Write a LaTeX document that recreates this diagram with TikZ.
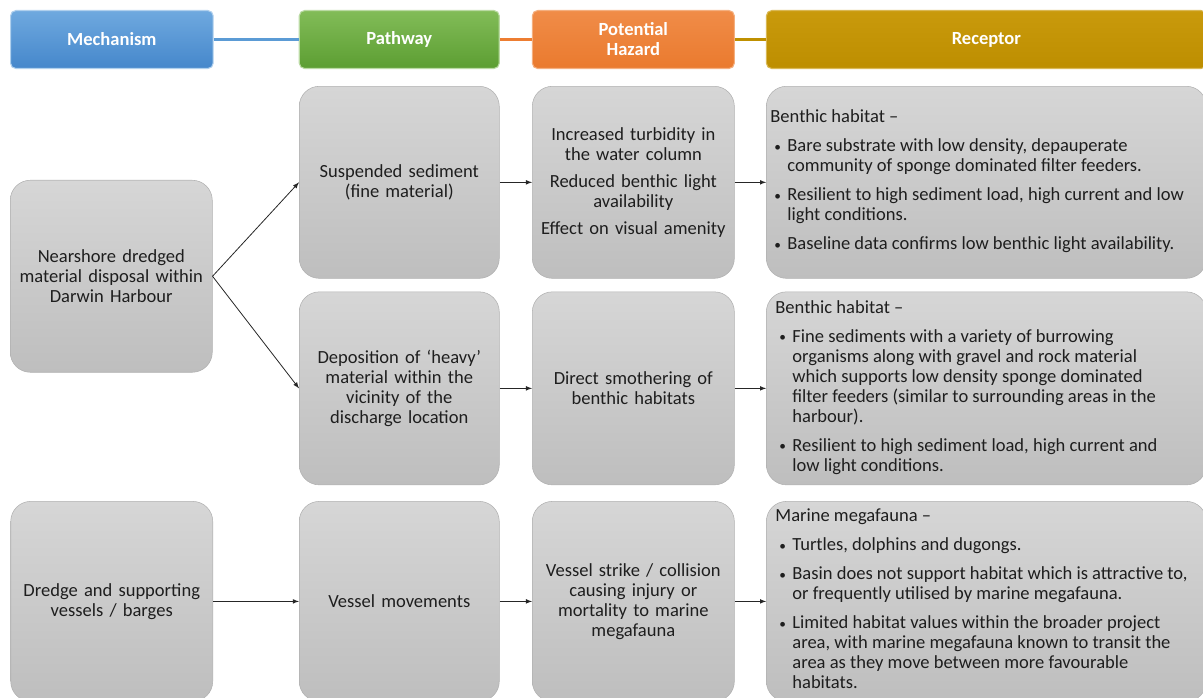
\documentclass[tikz,border=0pt]{standalone}
\usepackage{fontspec}
\setmainfont{Carlito}
\usetikzlibrary{positioning}

\definecolor{mechtop}{HTML}{6FA9DF}
\definecolor{mechbot}{HTML}{4587CB}
\definecolor{mechline}{HTML}{5B9BD5}
\definecolor{pathtop}{HTML}{82BC58}
\definecolor{pathbot}{HTML}{5C9E32}
\definecolor{haztop}{HTML}{F08C48}
\definecolor{hazbot}{HTML}{EA7A2E}
\definecolor{hazline}{HTML}{ED7D31}
\definecolor{rectop}{HTML}{C99A0C}
\definecolor{recbot}{HTML}{BD8E00}
\definecolor{recline}{HTML}{BF9000}
\definecolor{boxtop}{HTML}{D6D6D6}
\definecolor{boxbot}{HTML}{BEBEBE}
\definecolor{boxline}{HTML}{B0B0B0}
\definecolor{txt}{HTML}{1E1E1E}

\newcommand{\bodyfont}{\fontsize{13.9}{15}\selectfont}
% receptor text: one row per line, bullet rows and indented follow-on rows
\newcommand{\bul}{\makebox[12.75pt][l]{\hspace{3pt}\raisebox{0.6pt}{\fontsize{10}{10}\selectfont\textbullet}}}
\newcommand{\ind}{\hspace{12.75pt}}
\newcommand{\recbody}[2]{\makebox[326pt][l]{\hspace{#1}\begin{tabular}{@{}l@{}}#2\end{tabular}}}

\begin{document}
\begin{tikzpicture}[x=0.75pt, y=-0.75pt,
  head/.style = {rounded corners=4pt, minimum height=43.5pt, inner sep=2pt, align=center,
                 text=white, font=\bodyfont\bfseries, line width=0.8pt},
  headlink/.style = {draw=#1, line width=1.6pt},
  card/.style = {draw=boxline, top color=boxtop, bottom color=boxbot, rounded corners=15pt,
                 align=center, text=txt, font=\bodyfont, inner xsep=2pt, inner ysep=4pt},
  recbox/.style = {card, minimum width=330pt, inner xsep=0pt, minimum height=#1},
  link/.style = {-latex, line width=0.6pt, black!85}]
\useasboundingbox (0,0) rectangle (1203,698);
\clip (0,0) rectangle (1203,698);

% column headers
\node[head, draw=mechtop!55!white, top color=mechtop, bottom color=mechbot, minimum width=152pt, anchor=north west] (mechhead) at (10,10) {Mechanism};
\node[head, draw=pathtop!55!white, top color=pathtop, bottom color=pathbot, minimum width=150pt] (pathhead) [right=63.75pt of mechhead] {Pathway};
\node[head, draw=haztop!70!white, top color=haztop, bottom color=hazbot, minimum width=151.5pt] (hazhead) [right=24pt of pathhead] {Potential\\Hazard};
\node[head, draw=rectop!70!white, top color=rectop, bottom color=recbot, minimum width=330pt] (rechead) [right=23.25pt of hazhead] {Receptor};
\path[headlink=mechline] (mechhead.east) -- (pathhead.west);
\path[headlink=hazline] (pathhead.east) -- (hazhead.west);
\path[headlink=recline] (hazhead.east) -- (rechead.west);

% row 1
\node[card, text width=146pt, minimum height=144pt] (sus) [below=12.75pt of pathhead] {Suspended sediment\\(fine material)};
\node[card, text width=147.5pt, minimum height=144pt] (turb) [below=12.75pt of hazhead] {Increased turbidity in\\the water column\\[5.25pt]Reduced benthic light\\availability\\[5.25pt]Effect on visual amenity};
\node[recbox=144pt] (reca) [below=12.75pt of rechead] {\recbody{1pt}{%
  Benthic habitat –\\[6.75pt]
  \bul Bare substrate with low density, depauperate\\
  \ind community of sponge dominated filter feeders.\\[6.75pt]
  \bul Resilient to high sediment load, high current and low\\
  \ind light conditions.\\[6.75pt]
  \bul Baseline data confirms low benthic light availability.}};

% row 2
\node[card, text width=146pt, minimum height=144.75pt] (depo) [below=9.75pt of sus] {Deposition of ‘heavy’\\material within the\\vicinity of the\\discharge location};
\node[card, text width=147.5pt, minimum height=144.75pt] (smother) [below=9.75pt of turb] {Direct smothering of\\benthic habitats};
\node[recbox=144.75pt] (recb) [below=9.75pt of reca] {\recbody{4.75pt}{%
  Benthic habitat –\\[6.75pt]
  \bul Fine sediments with a variety of burrowing\\
  \ind organisms along with gravel and rock material\\
  \ind which supports low density sponge dominated\\
  \ind filter feeders (similar to surrounding areas in the\\
  \ind harbour).\\[6.75pt]
  \bul Resilient to high sediment load, high current and\\
  \ind low light conditions.}};

% mechanism boxes
\node[card, text width=147.5pt, minimum height=144pt, anchor=north west] (near) at (10,180) {Nearshore dredged\\material disposal within\\Darwin Harbour};

% row 3
\node[card, text width=146pt, minimum height=150pt] (vessel) [below=12pt of depo] {Vessel movements};
\node[card, text width=147.5pt, minimum height=150pt] (strike) [below=12pt of smother] {Vessel strike / collision\\causing injury or\\mortality to marine\\megafauna};
\node[recbox=150pt] (recc) [below=12pt of recb] {\recbody{4.75pt}{%
  Marine megafauna –\\[6.75pt]
  \bul Turtles, dolphins and dugongs.\\[6.75pt]
  \bul Basin does not support habitat which is attractive to,\\
  \ind or frequently utilised by marine megafauna.\\[6.75pt]
  \bul Limited habitat values within the broader project\\
  \ind area, with marine megafauna known to transit the\\
  \ind area as they move between more favourable\\
  \ind habitats.}};
\node[card, text width=147.5pt, minimum height=150pt] (dredge) [left=64.5pt of vessel] {Dredge and supporting\\vessels / barges};

% connectors
\draw[link] (near.east) -- (sus.west);
\draw[link] (near.east) -- (depo.west);
\draw[link] (sus) -- (turb);
\draw[link] (turb) -- (reca);
\draw[link] (depo) -- (smother);
\draw[link] (smother) -- (recb);
\draw[link] (dredge) -- (vessel);
\draw[link] (vessel) -- (strike);
\draw[link] (strike) -- (recc);
\end{tikzpicture}
\end{document}
